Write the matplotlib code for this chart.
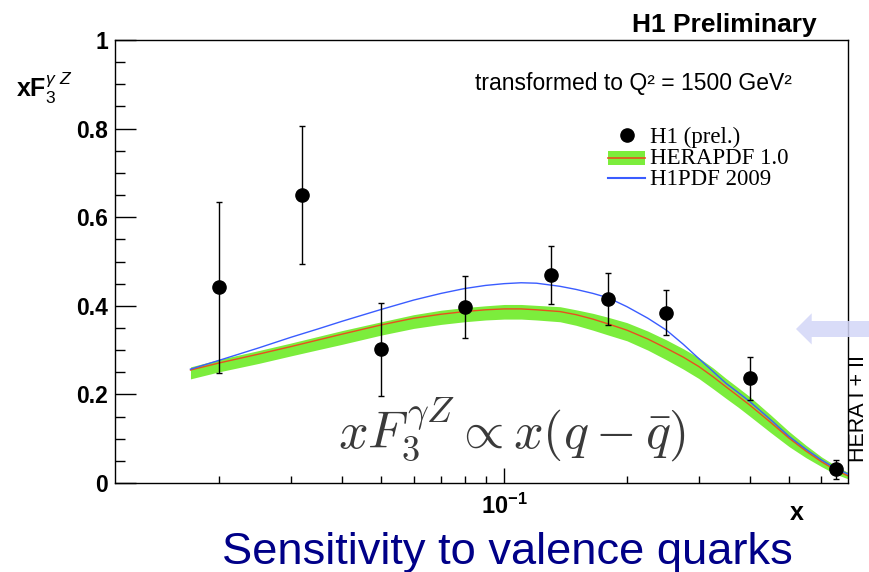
import numpy as np
import matplotlib.pyplot as plt
from matplotlib.patches import Polygon, Rectangle
from matplotlib.lines import Line2D
from matplotlib.ticker import NullFormatter

plt.rcParams["font.family"] = ["Liberation Sans", "DejaVu Sans"]
plt.rcParams["mathtext.fontset"] = "custom"
plt.rcParams["mathtext.rm"] = "Liberation Sans"
plt.rcParams["mathtext.it"] = "Liberation Sans:italic"
plt.rcParams["mathtext.bf"] = "Liberation Sans:bold"

# H1 preliminary xF3 points (transformed to Q^2 = 1500 GeV^2)
x_data = [0.02, 0.032, 0.05, 0.08, 0.13, 0.18, 0.25, 0.4, 0.65]
y_data = [0.442, 0.650, 0.302, 0.397, 0.470, 0.415, 0.384, 0.236, 0.031]
y_err = [0.193, 0.156, 0.105, 0.070, 0.065, 0.058, 0.051, 0.048, 0.022]

# PDF predictions
x_pdf = [0.017, 0.02, 0.025, 0.03, 0.035, 0.04, 0.05, 0.06, 0.07, 0.08,
         0.09, 0.10, 0.11, 0.12, 0.137, 0.15, 0.165, 0.18, 0.20, 0.225,
         0.25, 0.275, 0.30, 0.325, 0.35, 0.375, 0.40, 0.45, 0.50, 0.55,
         0.60, 0.65, 0.69, 0.72]
herapdf = [0.255, 0.271, 0.291, 0.308, 0.323, 0.336, 0.357, 0.372, 0.381,
           0.387, 0.391, 0.393, 0.393, 0.391, 0.387, 0.380, 0.370, 0.359,
           0.345, 0.325, 0.304, 0.284, 0.263, 0.240, 0.217, 0.196, 0.176,
           0.137, 0.101, 0.072, 0.048, 0.029, 0.018, 0.012]
hera_lo = [0.235, 0.251, 0.270, 0.287, 0.301, 0.313, 0.334, 0.349, 0.358,
           0.364, 0.368, 0.370, 0.370, 0.368, 0.364, 0.356, 0.345, 0.334,
           0.321, 0.300, 0.278, 0.257, 0.236, 0.213, 0.191, 0.171, 0.151,
           0.114, 0.082, 0.057, 0.037, 0.020, 0.011, 0.006]
hera_hi = [0.262, 0.279, 0.299, 0.316, 0.331, 0.344, 0.364, 0.380, 0.390,
           0.396, 0.400, 0.403, 0.403, 0.401, 0.398, 0.391, 0.383, 0.374,
           0.362, 0.343, 0.323, 0.303, 0.283, 0.260, 0.236, 0.215, 0.195,
           0.154, 0.116, 0.085, 0.059, 0.039, 0.026, 0.020]
h1pdf = [0.257, 0.277, 0.305, 0.329, 0.348, 0.365, 0.392, 0.413, 0.428,
         0.439, 0.446, 0.450, 0.452, 0.451, 0.444, 0.437, 0.428, 0.418,
         0.398, 0.372, 0.345, 0.313, 0.281, 0.252, 0.225, 0.204, 0.184,
         0.143, 0.105, 0.076, 0.052, 0.033, 0.022, 0.015]

y_ticks = [0, 0.2, 0.4, 0.6, 0.8, 1.0]
y_labels = ["0", "0.2", "0.4", "0.6", "0.8", "1"]
x_minor = [0.02, 0.03, 0.04, 0.05, 0.06, 0.07, 0.08, 0.09,
           0.2, 0.3, 0.4, 0.5, 0.6]

GREEN = "#7ced3c"
RED = "#e8501e"
BLUE = "#3a5cff"

W, H = 870, 572
fig = plt.figure(figsize=(W / 100, H / 100), dpi=100)


def fx(px):
    return px / W


def fy(py):
    return 1 - py / H


ax = fig.add_axes([fx(115), fy(483), 733 / W, 443 / H])
ax.set_xscale("log")
ax.set_xlim(0.0111, 0.697)
ax.set_ylim(0, 1)

ax.fill_between(x_pdf, hera_lo, hera_hi, color=GREEN, lw=0, zorder=1)
ax.plot(x_pdf, herapdf, color=RED, lw=1.0, zorder=2, solid_joinstyle="round")
ax.plot(x_pdf, h1pdf, color=BLUE, lw=1.0, zorder=3, solid_joinstyle="round")
ax.errorbar(x_data, y_data, yerr=y_err, fmt="o", color="black", ms=9.5,
            elinewidth=1.0, capsize=2.5, capthick=1.0, zorder=4)

for s in ax.spines.values():
    s.set_linewidth(1.0)

ax.set_yticks(y_ticks, y_labels, fontsize=16.5, fontweight="bold")
ax.set_yticks(np.arange(0, 1.0001, 0.05), minor=True)
ax.set_xticks([0.1], [r"$\mathbf{10^{-1}}$"], fontsize=17)
ax.set_xticks(x_minor, minor=True)
ax.xaxis.set_minor_formatter(NullFormatter())
ax.tick_params(which="both", direction="in", top=False, right=False, width=1.0)
ax.tick_params(axis="y", which="major", length=15, pad=5)
ax.tick_params(axis="y", which="minor", length=7.5)
ax.tick_params(axis="x", which="major", length=10.5, pad=8)
ax.tick_params(axis="x", which="minor", length=5.2)

# axis titles
fig.text(fx(16), fy(97), r"xF$_{3}^{\gamma\ Z}$", fontsize=18,
         fontweight="bold", va="baseline", ha="left")
fig.text(fx(797), fy(513), "x", fontsize=18, fontweight="bold",
         ha="center", va="center")

fig.text(fx(632), fy(32), "H1 Preliminary", fontsize=19, fontweight="bold",
         va="baseline", ha="left")
fig.text(fx(475), fy(90), "transformed to Q² = 1500 GeV²", fontsize=16.5,
         va="baseline", ha="left")

# legend
serif = ["Liberation Serif", "DejaVu Serif"]
fig.add_artist(Line2D([fx(626.7)], [fy(135)], marker="o", ms=9.5,
                      color="black", ls="none"))
fig.add_artist(Rectangle((fx(608), fy(165)), fx(645) - fx(608),
                         fy(151) - fy(165), color=GREEN, lw=0))
fig.add_artist(Line2D([fx(608), fx(645)], [fy(158), fy(158)], color=RED, lw=1.2))
fig.add_artist(Line2D([fx(608), fx(645)], [fy(178), fy(178)], color=BLUE, lw=1.5))
for py, lab in [(142.5, "H1 (prel.)"), (163.5, "HERAPDF 1.0"), (185, "H1PDF 2009")]:
    fig.text(fx(650), fy(py), lab, fontsize=16.5, family=serif,
             va="baseline", ha="left")

ax.text(0.5416, 0.079, r"$xF_3^{\gamma Z} \propto x(q-\bar{q})$",
        transform=ax.transAxes, fontsize=37.5, color="#3a3a3a",
        math_fontfamily="cm", ha="center", va="baseline")

fig.text(fx(859), fy(409), "HERA I + II", fontsize=15.5, rotation=90,
         ha="center", va="center")

arrow = [(796, 329), (811.7, 313.3), (811.7, 321), (870, 321), (870, 337),
         (811.7, 337), (811.7, 344.5)]
fig.add_artist(Polygon([(fx(a), fy(b)) for a, b in arrow], closed=True,
                       color="#d3d6f7", alpha=0.85, lw=0))

fig.text(fx(222), fy(564), "Sensitivity to valence quarks", fontsize=32.6,
         color="#000088", va="baseline", ha="left")

fig.savefig("out.png", dpi=100)
